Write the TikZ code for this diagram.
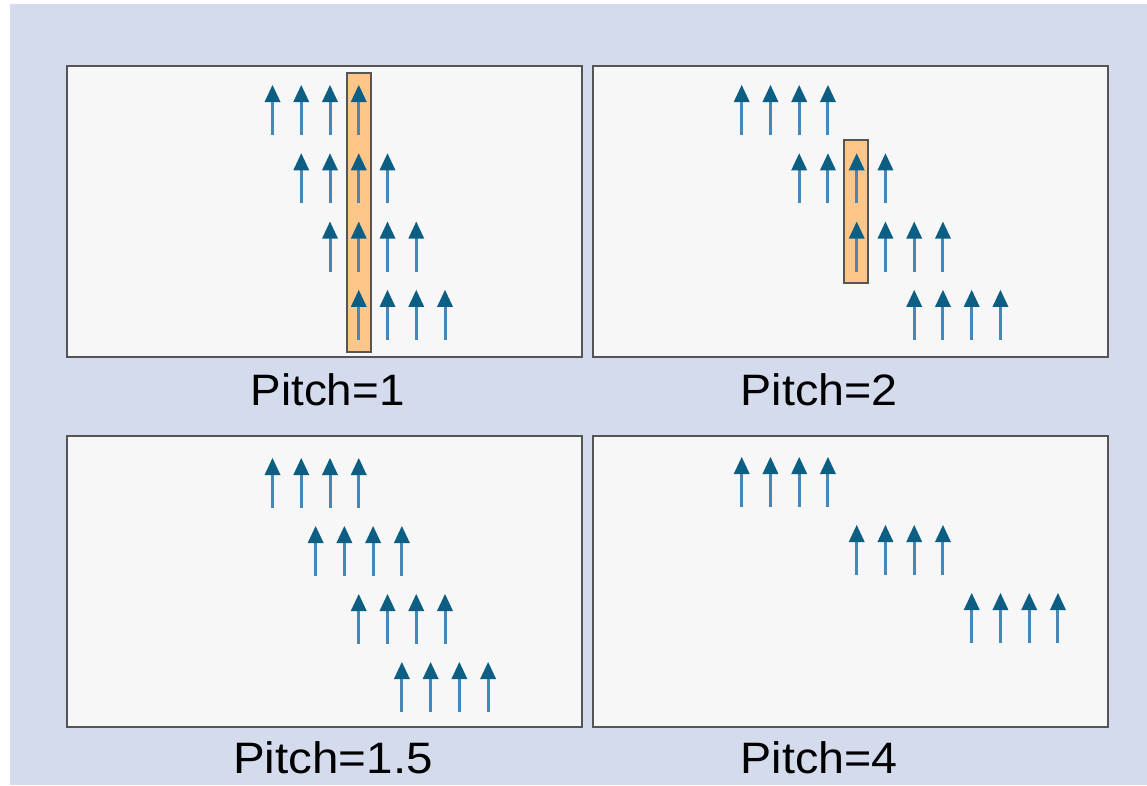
\documentclass[tikz,border=0pt]{standalone}
\usepackage{fontspec}
\setmainfont{Liberation Sans}
\definecolor{bgcol}{RGB}{212,219,236}
\definecolor{panelcol}{RGB}{247,247,247}
\definecolor{framecol}{RGB}{85,85,85}
\definecolor{hlcol}{RGB}{255,198,138}
\definecolor{shaftcol}{RGB}{70,135,185}
\definecolor{headcol}{RGB}{12,95,130}
\tikzset{
  panel/.style={fill=panelcol, draw=framecol, line width=2.5pt},
  hlbox/.style={fill=hlcol, draw=framecol, line width=2pt},
  lbl/.style={font=\fontsize{44}{50}\selectfont, anchor=base west, inner sep=0pt, text=black},
}
\newcommand\pitcharrow[2]{%
  \pgfmathsetmacro\ax{#1}%
  \pgfmathsetmacro\ay{#2}%
  \draw[shaftcol, line width=3pt] (\ax,\ay+50) -- (\ax,\ay+12);
  \fill[headcol] (\ax,\ay) -- (\ax-8,\ay+17) -- (\ax+8,\ay+17) -- cycle;}
\newcommand\widelbl[2][1.06]{\scalebox{#1}[1]{#2}}
\begin{document}
\begin{tikzpicture}[x=1pt,y=-1pt]
\useasboundingbox (0,0) rectangle (1147,785);
\fill[white] (0,0) rectangle (1147,785);
\fill[bgcol] (10,4) rectangle (1147,785);
% panels
\draw[panel] (67,66) rectangle (582,357);
\draw[panel] (593,66) rectangle (1108,357);
\draw[panel] (67,436) rectangle (582,727);
\draw[panel] (593,436) rectangle (1108,727);
% highlight boxes
\draw[hlbox] (347,73) rectangle (371,352);
\draw[hlbox] (844,140) rectangle (868,283);
% panel 1: pitch 1
\foreach \r in {0,...,3}{\foreach \k in {0,...,3}{
  \pitcharrow{272.5+28.75*(\r+\k)}{85+68.3*\r}}}
% panel 2: pitch 2
\foreach \r in {0,...,3}{\foreach \k in {0,...,3}{
  \pitcharrow{741.7+28.75*(2*\r+\k)}{85+68.3*\r}}}
% panel 3: pitch 1.5
\foreach \r in {0,...,3}{\foreach \k in {0,...,3}{
  \pitcharrow{272.5+28.75*(1.5*\r+\k)}{458+68*\r}}}
% panel 4: pitch 4
\foreach \r in {0,...,2}{\foreach \k in {0,...,3}{
  \pitcharrow{741.7+28.75*(4*\r+\k)}{457+68*\r}}}
% labels
\node[lbl] (l1) at (250.5,405) {\widelbl[1.04]{Pitch=1}};
\node[lbl] (l2) at (740.5,405) {\widelbl[1.06]{Pitch=2}};
\node[lbl] (l3) at (233,773) {\widelbl[1.08]{Pitch=1.5}};
\node[lbl] (l4) at (740.5,773) {\widelbl[1.06]{Pitch=4}};
\end{tikzpicture}
\end{document}
